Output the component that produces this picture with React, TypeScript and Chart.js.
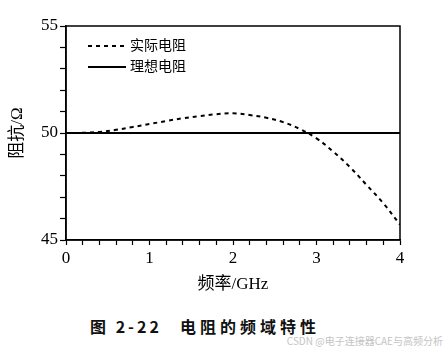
import React, { useEffect, useRef } from "react";
import { Chart, registerables } from "chart.js";

Chart.register(...registerables);

const freqGHz = [0, 0.2, 0.4, 0.6, 0.8, 1.0, 1.2, 1.4, 1.6, 1.8, 2.0, 2.2, 2.4, 2.6, 2.8, 3.0, 3.2, 3.4, 3.6, 3.8, 4.0];
const actualOhm = [50.0, 50.01, 50.05, 50.15, 50.28, 50.42, 50.56, 50.69, 50.79, 50.88, 50.92, 50.84, 50.71, 50.51, 50.19, 49.75, 49.13, 48.41, 47.57, 46.72, 45.72];
const idealFreqGHz = [0, 4];
const idealOhm = [50, 50];

const seriesNames = ["实际电阻", "理想电阻"];
const xTitle = "频率/GHz";
const yTitle = "阻抗/Ω";
const captionNo = "图 2-22";
const captionText = "电阻的频域特性";
const watermark = "CSDN @电子连接器CAE与高频分析";

const serif = "'Liberation Serif', 'Noto Sans CJK SC', serif";

const boxPlugin = {
  id: "box",
  afterDraw(chart: any) {
    const { ctx, chartArea } = chart;
    ctx.save();
    ctx.strokeStyle = "#000";
    ctx.lineWidth = 1.5;
    ctx.strokeRect(chartArea.left, chartArea.top, chartArea.right - chartArea.left, chartArea.bottom - chartArea.top);
    ctx.restore();
  },
};

const isInt = (v: number) => Math.abs(v - Math.round(v)) < 1e-6;

export default function App() {
  const ref = useRef<HTMLCanvasElement | null>(null);
  useEffect(() => {
    if (!ref.current) return;
    const chart = new Chart(ref.current, {
      type: "line",
      data: {
        datasets: [
          {
            label: seriesNames[0],
            data: freqGHz.map((f, i) => ({ x: f, y: actualOhm[i] })),
            borderColor: "#000",
            borderWidth: 2,
            borderDash: [4, 4],
            pointRadius: 0,
            tension: 0.4,
            fill: false,
          },
          {
            label: seriesNames[1],
            data: idealFreqGHz.map((f, i) => ({ x: f, y: idealOhm[i] })),
            borderColor: "#000",
            borderWidth: 2,
            pointRadius: 0,
            tension: 0,
            fill: false,
          },
        ],
      },
      options: {
        animation: false,
        responsive: false,
        maintainAspectRatio: false,
        layout: { padding: { left: 0, right: 47, top: 26, bottom: 0 } },
        plugins: { legend: { display: false }, tooltip: { enabled: false } },
        scales: {
          x: {
            type: "linear",
            min: 0,
            max: 4,
            afterFit: (s: any) => {
              s.height = 60;
            },
            border: { color: "#000", width: 1.5 },
            grid: { drawOnChartArea: false, drawTicks: true, tickLength: 5, color: "#000", tickColor: "#000", tickWidth: 1.2 },
            ticks: {
              stepSize: 0.2,
              autoSkip: false,
              maxRotation: 0,
              padding: 3,
              color: "#000",
              font: { family: serif, size: 17 },
              callback: (v: any) => (isInt(Number(v)) ? String(Math.round(Number(v))) : ""),
            },
            title: {
              display: true,
              text: xTitle,
              color: "#000",
              font: { family: serif, size: 17 },
              padding: { top: 0, bottom: 5 },
            },
          },
          y: {
            type: "linear",
            min: 45,
            max: 55,
            afterFit: (s: any) => {
              s.width = 66;
            },
            border: { color: "#000", width: 1.5 },
            grid: { drawOnChartArea: false, drawTicks: true, tickLength: 6, color: "#000", tickColor: "#000", tickWidth: 1.2 },
            ticks: {
              stepSize: 1,
              autoSkip: false,
              padding: 2,
              color: "#000",
              font: { family: serif, size: 17 },
              callback: (v: any) => (Number(v) % 5 === 0 ? String(v) : ""),
            },
            title: {
              display: true,
              text: yTitle,
              color: "#000",
              font: { family: serif, size: 17 },
              padding: { top: 7, bottom: 0 },
            },
          },
        },
      },
      plugins: [boxPlugin],
    });
    return () => chart.destroy();
  }, []);

  const capStyle: React.CSSProperties = {
    position: "absolute",
    top: 316,
    fontFamily: "'Noto Sans CJK SC', sans-serif",
    fontWeight: 700,
    fontSize: 16,
    lineHeight: "20px",
    color: "#111",
    whiteSpace: "nowrap",
  };

  return (
    <div style={{ position: "absolute", left: 0, top: 0, width: 447, height: 352, background: "#fff", overflow: "hidden" }}>
      <canvas ref={ref} width={447} height={300} style={{ position: "absolute", left: 0, top: 0, width: 447, height: 300 }} />
      <div style={{ position: "absolute", left: 88, top: 37, display: "flex", alignItems: "center", height: 18 }}>
        <svg width={38} height={4} style={{ display: "block" }}>
          <line x1={0} y1={2} x2={38} y2={2} stroke="#000" strokeWidth={2} strokeDasharray="4 4" />
        </svg>
        <span style={{ marginLeft: 4, fontFamily: serif, fontSize: 14, lineHeight: "18px", color: "#000" }}>{seriesNames[0]}</span>
      </div>
      <div style={{ position: "absolute", left: 88, top: 58, display: "flex", alignItems: "center", height: 18 }}>
        <svg width={38} height={4} style={{ display: "block" }}>
          <line x1={0} y1={2} x2={38} y2={2} stroke="#000" strokeWidth={2} />
        </svg>
        <span style={{ marginLeft: 4, fontFamily: serif, fontSize: 14, lineHeight: "18px", color: "#000" }}>{seriesNames[1]}</span>
      </div>
      <div style={{ ...capStyle, left: 90, letterSpacing: 3 }}>{captionNo}</div>
      <div style={{ ...capStyle, left: 180, letterSpacing: 4 }}>{captionText}</div>
      <div
        style={{
          position: "absolute",
          right: 4,
          top: 334,
          fontFamily: "'Noto Sans CJK SC', sans-serif",
          fontSize: 10,
          lineHeight: "14px",
          color: "#c4c4c4",
          whiteSpace: "nowrap",
        }}
      >
        {watermark}
      </div>
    </div>
  );
}
